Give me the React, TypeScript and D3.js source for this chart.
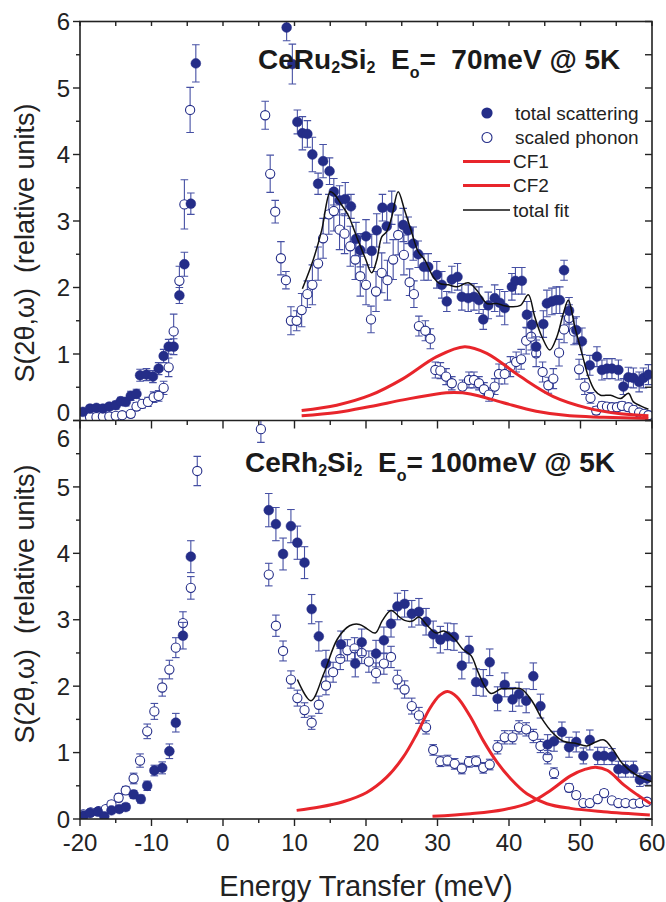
import React from "react";
import * as d3 from "d3";

// ---------- data: [energy (meV), S, error] ----------
const ruTotal: [number, number, number][] = [
  [-19.6,0.13,0.05],[-18.6,0.18,0.05],[-17.7,0.19,0.05],[-16.8,0.18,0.05],[-15.9,0.21,0.05],[-15.0,0.23,0.06],[-14.3,0.29,0.06],[-13.6,0.28,0.06],[-12.9,0.37,0.07],[-12.1,0.40,0.07],[-11.6,0.68,0.09],[-10.7,0.69,0.09],[-9.8,0.66,0.09],[-9.0,0.78,0.09],[-8.3,0.97,0.10],[-7.6,1.11,0.11],[-6.9,1.11,0.12],[-6.1,1.88,0.12],[-5.4,2.35,0.18],[-4.5,3.26,0.16],[-3.8,5.37,0.28],
  [8.9,5.91,0.2],[9.7,5.36,0.3],[10.4,4.49,0.18],[11.1,4.32,0.25],[11.8,4.31,0.2],[12.5,4.0,0.26],[13.3,3.56,0.16],[14.0,3.90,0.25],[14.9,3.75,0.2],[15.5,3.44,0.2],[16.3,3.31,0.22],[17.1,3.33,0.25],[17.9,3.22,0.18],[18.6,2.73,0.25],[19.2,2.56,0.25],[20.0,2.77,0.25],[20.8,2.55,0.25],[21.5,2.86,0.25],[22.3,3.20,0.2],[22.9,2.92,0.25],[23.6,3.20,0.25],[25.2,2.94,0.25],[25.9,2.86,0.2],[26.6,2.66,0.25],[27.3,2.50,0.2],[28.1,2.31,0.2],[28.7,2.31,0.2],[29.9,2.19,0.2],[30.6,2.04,0.2],[31.3,1.79,0.15],[32.0,2.12,0.2],[32.8,2.16,0.2],[33.4,1.86,0.2],[34.3,1.84,0.2],[35.1,1.86,0.2],[35.8,1.81,0.2],[36.4,1.52,0.15],[37.1,1.73,0.2],[38.0,1.84,0.2],[38.7,1.77,0.2],[39.4,1.69,0.25],[40.4,2.01,0.2],[40.9,2.10,0.2],[41.8,2.10,0.2],[42.5,1.59,0.2],[43.2,1.44,0.2],[43.8,1.11,0.15],[44.8,1.45,0.2],[45.3,1.76,0.2],[46.0,1.79,0.2],[46.6,1.81,0.2],[47.1,1.81,0.2],[47.7,2.26,0.15],[48.4,1.65,0.2],[49.4,1.36,0.2],[50.2,1.19,0.2],[51.3,0.83,0.15],[52.3,0.96,0.15],[53.0,0.76,0.15],[53.7,0.78,0.15],[54.4,0.78,0.15],[55.3,0.76,0.15],[56.0,0.51,0.12],[56.7,0.65,0.15],[57.4,0.64,0.15],[58.2,0.58,0.15],[58.8,0.64,0.15],[59.5,0.69,0.15],
];

const ruPhonon: [number, number, number][] = [
  [-19.6,0.04,0.04],[-18.6,0.05,0.04],[-17.7,0.05,0.04],[-16.8,0.06,0.04],[-15.9,0.06,0.04],[-15.0,0.07,0.04],[-14.1,0.08,0.04],[-12.9,0.10,0.05],[-12.1,0.21,0.06],[-11.3,0.25,0.06],[-10.5,0.28,0.07],[-9.7,0.35,0.08],[-9.0,0.37,0.08],[-8.3,0.49,0.1],[-7.6,0.80,0.14],[-6.9,1.34,0.26],[-6.1,2.10,0.22],[-5.4,3.25,0.37],[-4.6,4.67,0.34],
  [5.9,4.59,0.21],[6.6,3.71,0.28],[7.3,3.14,0.17],[8.1,2.44,0.25],[8.8,2.11,0.13],[9.5,1.50,0.21],[10.3,1.50,0.15],[11.0,1.66,0.25],[11.8,1.90,0.2],[12.5,2.04,0.3],[13.3,2.36,0.25],[14.0,2.74,0.3],[14.8,3.10,0.3],[15.5,3.15,0.3],[16.3,2.87,0.3],[17.0,2.81,0.3],[17.8,2.62,0.3],[18.5,2.42,0.3],[19.2,2.17,0.3],[20.0,2.04,0.3],[20.7,1.52,0.2],[21.4,1.94,0.3],[22.2,2.22,0.3],[23.0,2.11,0.3],[23.8,2.42,0.3],[24.5,2.79,0.3],[25.3,2.49,0.3],[26.1,2.08,0.2],[26.7,1.90,0.2],[27.4,1.42,0.15],[28.3,1.35,0.15],[29.0,1.23,0.15],[29.7,0.76,0.12],[30.4,0.75,0.12],[31.2,0.66,0.12],[32.0,0.56,0.1],[33.5,0.51,0.1],[34.4,0.61,0.12],[35.1,0.61,0.12],[35.8,0.56,0.1],[36.5,0.47,0.1],[37.2,0.39,0.1],[38.0,0.51,0.12],[38.6,0.70,0.15],[39.4,0.70,0.15],[40.2,0.81,0.15],[41.0,0.88,0.15],[41.7,0.92,0.15],[42.4,1.20,0.2],[43.1,1.26,0.2],[43.8,1.01,0.2],[44.7,0.73,0.15],[45.5,0.53,0.12],[46.2,0.63,0.15],[47.0,1.02,0.2],[47.7,1.37,0.2],[48.4,1.54,0.2],[49.1,1.34,0.2],[49.8,0.77,0.15],[50.6,0.51,0.12],[51.4,0.34,0.08],[52.2,0.15,0.06],[53.0,0.22,0.06],[53.7,0.21,0.06],[54.4,0.20,0.06],[55.1,0.20,0.06],[55.8,0.22,0.06],[56.7,0.20,0.06],[57.4,0.16,0.06],[58.2,0.12,0.05],[58.9,0.10,0.05],[59.5,0.08,0.05],
];

const ruFit: [number, number][] = [
  [11.1,1.98],[12.6,2.41],[13.8,2.86],[15.0,3.44],[15.5,3.41],[16.6,3.24],[17.5,3.09],[18.7,2.76],[19.9,2.44],[20.8,2.22],[21.5,2.41],[22.2,2.76],[22.9,2.84],[23.6,3.06],[24.5,3.44],[25.4,3.16],[26.3,2.86],[27.3,2.54],[28.2,2.42],[29.4,2.16],[30.3,2.06],[31.5,2.04],[32.7,2.01],[34.3,2.07],[35.5,1.96],[36.9,1.76],[38.3,1.76],[39.2,1.73],[40.4,1.71],[41.6,1.73],[42.7,1.89],[43.6,1.56],[44.6,1.26],[45.7,1.06],[46.7,1.26],[47.6,1.61],[48.3,1.81],[49.2,1.41],[50.2,1.01],[51.1,0.66],[52.0,0.45],[52.8,0.38],[54.2,0.38],[55.6,0.33],[56.7,0.41],[57.4,0.28],[58.4,0.22],[59.5,0.17],
];
const ruCF1: [number, number][] = [
  [11.0,0.15],[15.9,0.23],[20.6,0.38],[25.2,0.63],[29.9,0.96],[33.8,1.11],[36.9,1.01],[41.6,0.66],[46.2,0.36],[50.9,0.19],[55.6,0.10],[59.5,0.07],
];
const ruCF2: [number, number][] = [
  [11.0,0.07],[15.9,0.12],[20.6,0.21],[25.2,0.31],[29.9,0.40],[32.3,0.42],[34.6,0.40],[39.1,0.27],[43.8,0.14],[48.5,0.07],[53.2,0.05],[59.5,0.03],
];

const rhTotal: [number, number, number][] = [
  [-19.5,0.05,0.04],[-18.6,0.09,0.04],[-17.5,0.11,0.04],[-16.6,0.04,0.04],[-15.6,0.13,0.04],[-14.5,0.15,0.04],[-13.6,0.18,0.05],[-12.5,0.37,0.06],[-11.5,0.30,0.06],[-10.6,0.50,0.07],[-9.6,0.73,0.08],[-8.5,0.77,0.09],[-7.5,1.02,0.11],[-6.6,1.45,0.14],[-5.6,2.76,0.2],[-4.5,3.95,0.24],
  [6.4,4.65,0.25],[7.4,4.44,0.25],[8.4,3.99,0.24],[9.5,4.41,0.25],[10.4,4.16,0.25],[11.4,3.86,0.24],[12.4,3.16,0.22],[13.4,2.75,0.22],[14.4,2.34,0.2],[16.5,2.63,0.2],[18.5,2.34,0.2],[19.4,2.66,0.2],[21.4,2.49,0.2],[22.5,2.69,0.2],[23.5,2.94,0.2],[24.4,3.20,0.2],[25.4,3.24,0.2],[26.4,3.09,0.2],[27.4,3.12,0.2],[28.4,2.97,0.2],[29.4,2.78,0.2],[30.4,2.70,0.2],[31.4,2.75,0.2],[32.3,2.74,0.2],[33.4,2.31,0.2],[34.4,2.55,0.2],[35.4,2.06,0.2],[36.4,2.05,0.2],[37.3,2.36,0.2],[38.4,1.81,0.18],[39.4,2.02,0.18],[40.5,1.80,0.18],[41.4,1.88,0.18],[42.4,1.78,0.18],[43.4,2.15,0.2],[44.4,1.70,0.18],[45.4,1.12,0.15],[46.3,1.17,0.15],[47.4,1.31,0.15],[48.4,1.08,0.15],[49.4,1.16,0.15],[50.4,0.95,0.12],[51.3,1.19,0.15],[52.4,0.95,0.13],[53.3,0.95,0.13],[54.4,0.94,0.12],[55.3,0.75,0.12],[56.3,0.75,0.12],[57.4,0.75,0.12],[58.3,0.59,0.1],[59.3,0.61,0.1],
];

const rhPhonon: [number, number, number][] = [
  [-19.5,0.07,0.04],[-18.5,0.10,0.04],[-17.4,0.12,0.04],[-16.4,0.15,0.04],[-15.6,0.22,0.05],[-14.6,0.32,0.06],[-13.6,0.43,0.06],[-12.5,0.61,0.08],[-11.6,0.88,0.1],[-10.6,1.32,0.11],[-9.6,1.62,0.12],[-8.5,1.98,0.13],[-7.5,2.25,0.14],[-6.6,2.58,0.15],[-5.6,2.95,0.17],[-4.5,3.48,0.17],[-3.6,5.24,0.22],
  [5.3,5.87,0.2],[6.4,3.68,0.17],[7.4,2.91,0.16],[8.4,2.53,0.15],[9.5,2.10,0.13],[10.4,1.82,0.12],[11.4,1.64,0.11],[12.4,1.45,0.1],[13.4,1.72,0.13],[14.4,2.01,0.14],[15.4,2.21,0.15],[16.4,2.41,0.16],[17.4,2.54,0.16],[18.4,2.57,0.16],[19.4,2.50,0.16],[20.4,2.37,0.16],[21.4,2.20,0.15],[22.5,2.34,0.16],[23.5,2.44,0.16],[24.4,2.10,0.14],[25.4,1.95,0.13],[26.4,1.70,0.12],[27.4,1.56,0.12],[28.4,1.38,0.1],[29.4,1.04,0.08],[30.4,0.87,0.08],[31.4,0.88,0.08],[32.4,0.83,0.08],[33.4,0.76,0.08],[34.4,0.86,0.08],[35.4,0.87,0.08],[36.4,0.77,0.08],[37.3,0.82,0.08],[38.4,1.08,0.1],[39.4,1.23,0.1],[40.5,1.23,0.1],[41.4,1.38,0.1],[42.4,1.35,0.1],[43.4,1.25,0.1],[44.4,1.10,0.1],[45.4,0.93,0.1],[46.3,0.69,0.08],[48.4,0.47,0.06],[49.4,0.36,0.05],[50.4,0.24,0.04],[51.3,0.24,0.04],[52.4,0.30,0.04],[53.3,0.39,0.05],[54.4,0.28,0.04],[55.3,0.24,0.04],[56.3,0.24,0.04],[57.4,0.23,0.04],[58.3,0.24,0.04],[59.3,0.26,0.04],
];

const rhFit: [number, number][] = [
  [10.4,2.10],[12.3,1.78],[14.1,2.19],[16.0,2.71],[17.7,2.91],[19.1,2.93],[20.2,2.86],[21.3,2.80],[22.3,2.99],[23.5,3.14],[24.7,3.04],[25.4,2.99],[26.5,2.98],[27.4,3.04],[28.6,2.91],[29.8,2.80],[30.9,2.83],[32.4,2.71],[33.5,2.56],[34.7,2.46],[35.6,2.23],[36.6,2.00],[37.5,1.89],[38.9,1.96],[40.4,1.96],[41.7,1.96],[43.2,1.78],[44.6,1.51],[46.0,1.31],[47.6,1.17],[49.3,1.14],[50.9,1.10],[52.1,1.16],[53.3,1.19],[54.5,1.05],[55.9,0.83],[57.7,0.67],[60.0,0.56],
];
const rhCF1: [number, number][] = [
  [10.3,0.13],[13.5,0.18],[16.8,0.26],[20.1,0.40],[22.9,0.63],[25.2,0.93],[27.1,1.28],[28.9,1.66],[30.3,1.86],[31.4,1.92],[32.7,1.84],[34.6,1.54],[36.4,1.18],[38.3,0.86],[40.2,0.61],[42.5,0.38],[45.3,0.23],[48.6,0.16],[53.2,0.11],[59.7,0.06],
];
const rhCF2: [number, number][] = [
  [29.3,0.04],[34.6,0.08],[39.2,0.14],[43.0,0.25],[45.8,0.43],[48.6,0.65],[50.7,0.75],[52.1,0.78],[53.8,0.73],[56.1,0.51],[58.0,0.36],[59.8,0.23],
];

const xTicks = [-20, -10, 0, 10, 20, 30, 40, 50, 60];
const yTicks = [0, 1, 2, 3, 4, 5, 6];
const legendLabels = ["total scattering", "scaled phonon", "CF1", "CF2", "total fit"];

// ---------- styling ----------
const FONT = "'Liberation Sans', Arial, Helvetica, sans-serif";
const NAVY = "#242d88";
const ERR = "#4650a4";
const RED = "#e8252b";
const AX = "#222";

const W = 666, H = 902;
const x = d3.scaleLinear().domain([-20, 60]).range([80, 652]);
const yTop = d3.scaleLinear().domain([0, 6]).range([420.5, 21.5]);
const yBot = d3.scaleLinear().domain([0, 6]).range([819, 420.5]);

function Points({ data, y, filled }: { data: [number, number, number][]; y: d3.ScaleLinear<number, number>; filled: boolean }) {
  return (
    <g>
      {data.map((d, i) => {
        const cx = x(d[0]);
        const y1 = y(d[1] - d[2]);
        const y2 = y(d[1] + d[2]);
        return (
          <g key={i} stroke={ERR} strokeWidth={1.1}>
            <line x1={cx} x2={cx} y1={y1} y2={y2} />
            <line x1={cx - 3.8} x2={cx + 3.8} y1={y1} y2={y1} />
            <line x1={cx - 3.8} x2={cx + 3.8} y1={y2} y2={y2} />
          </g>
        );
      })}
      {data.map((d, i) => (
        <circle
          key={"c" + i}
          cx={x(d[0])}
          cy={y(d[1])}
          r={filled ? 4.9 : 4.6}
          fill={filled ? NAVY : "#fff"}
          stroke={NAVY}
          strokeWidth={filled ? 0.5 : 1.1}
        />
      ))}
    </g>
  );
}

function Curve({ data, y, color, width }: { data: [number, number][]; y: d3.ScaleLinear<number, number>; color: string; width: number }) {
  const gen = d3
    .line<[number, number]>()
    .x((d) => x(d[0]))
    .y((d) => y(d[1]))
    .curve(d3.curveCatmullRom.alpha(0.5));
  return <path d={gen(data) || ""} fill="none" stroke={color} strokeWidth={width} strokeLinejoin="round" />;
}

function Frame({ y, top, bottom, bottomAxis }: { y: d3.ScaleLinear<number, number>; top: number; bottom: number; bottomAxis: boolean }) {
  const halfs = d3.range(0, 6.01, 0.5);
  const xMinor = d3.range(-20, 60.01, 5);
  return (
    <g stroke={AX} strokeWidth={1.4} fill="none">
      {halfs.map((v, i) => (
        <line key={"l" + i} x1={x(-20)} x2={x(-20) - (Number.isInteger(v) ? 7 : 4)} y1={y(v)} y2={y(v)} />
      ))}
      {halfs.map((v, i) => (
        <line key={"r" + i} x1={x(60)} x2={x(60) - 7} y1={y(v)} y2={y(v)} />
      ))}
      {xMinor.map((e, i) => (
        <line key={"t" + i} x1={x(e)} x2={x(e)} y1={top} y2={top + (bottomAxis && e % 10 === 0 ? 8 : 4.5)} />
      ))}
      {bottomAxis &&
        xMinor.map((e, i) => (
          <line key={"b" + i} x1={x(e)} x2={x(e)} y1={bottom} y2={bottom + (e % 10 === 0 ? 7 : 4)} />
        ))}
    </g>
  );
}

export default function App() {
  const ySubLabel = (cy: number, cx: number) => (
    <text
      transform={`translate(${cx},${cy}) rotate(-90)`}
      textAnchor="middle"
      fontFamily={FONT}
      fontSize={27}
      fill={AX}
      style={{ whiteSpace: "pre" }}
    >
      {"S(2θ,ω)  (relative units)"}
    </text>
  );

  return (
    <svg width={W} height={H} style={{ position: "absolute", left: 0, top: 0, background: "#fff" }}>
      <defs>
        <clipPath id="clipTop">
          <rect x={x(-20)} y={yTop(6)} width={x(60) - x(-20)} height={yTop(0) - yTop(6)} />
        </clipPath>
        <clipPath id="clipBot">
          <rect x={x(-20)} y={yBot(6)} width={x(60) - x(-20)} height={yBot(0) - yBot(6)} />
        </clipPath>
      </defs>

      <g clipPath="url(#clipTop)">
        <Points data={ruPhonon} y={yTop} filled={false} />
        <Points data={ruTotal} y={yTop} filled={true} />
        <Curve data={ruCF1} y={yTop} color={RED} width={3} />
        <Curve data={ruCF2} y={yTop} color={RED} width={3} />
        <Curve data={ruFit} y={yTop} color="#111" width={1.5} />
      </g>
      <g clipPath="url(#clipBot)">
        <Points data={rhPhonon} y={yBot} filled={false} />
        <Points data={rhTotal} y={yBot} filled={true} />
        <Curve data={rhCF1} y={yBot} color={RED} width={3} />
        <Curve data={rhCF2} y={yBot} color={RED} width={3} />
        <Curve data={rhFit} y={yBot} color="#111" width={1.5} />
      </g>

      <rect x={x(-20)} y={yTop(6)} width={x(60) - x(-20)} height={yBot(0) - yTop(6)} fill="none" stroke={AX} strokeWidth={1.6} />
      <line x1={x(-20)} x2={x(60)} y1={yTop(0)} y2={yTop(0)} stroke={AX} strokeWidth={1.6} />
      <Frame y={yTop} top={yTop(6)} bottom={yTop(0)} bottomAxis={false} />
      <Frame y={yBot} top={yBot(6)} bottom={yBot(0)} bottomAxis={true} />

      <g fontFamily={FONT} fontSize={24} fill={AX} textAnchor="end">
        {yTicks.map((v) => (
          <text key={"yt" + v} x={70} y={yTop(v) + (v === 0 ? -8 : 0)} dy="0.36em">
            {v}
          </text>
        ))}
        {yTicks.map((v) => (
          <text key={"yb" + v} x={70} y={yBot(v) + (v === 6 ? 18 : 0)} dy="0.36em">
            {v}
          </text>
        ))}
      </g>
      <g fontFamily={FONT} fontSize={24} fill={AX} textAnchor="middle">
        {xTicks.map((e) => (
          <text key={"xt" + e} x={x(e)} y={851}>
            {e}
          </text>
        ))}
      </g>
      <text x={(x(-20) + x(60)) / 2} y={896} textAnchor="middle" fontFamily={FONT} fontSize={29} fill={AX}>
        Energy Transfer (meV)
      </text>
      {ySubLabel(243, 34)}
      {ySubLabel(604, 34)}

      <text x={258} y={69} fontFamily={FONT} fontSize={28} fontWeight="bold" fill="#1a1a1a" style={{ whiteSpace: "pre" }}>
        CeRu<tspan fontSize={16} dy={4}>2</tspan>
        <tspan dy={-4}>Si</tspan>
        <tspan fontSize={16} dy={4}>2</tspan>
        <tspan dy={-4}>{"  E"}</tspan>
        <tspan fontSize={16} dy={9}>o</tspan>
        <tspan dy={-9}>{"=  70meV @ 5K"}</tspan>
      </text>
      <text x={245} y={472} fontFamily={FONT} fontSize={28} fontWeight="bold" fill="#1a1a1a" style={{ whiteSpace: "pre" }}>
        CeRh<tspan fontSize={16} dy={4}>2</tspan>
        <tspan dy={-4}>Si</tspan>
        <tspan fontSize={16} dy={4}>2</tspan>
        <tspan dy={-4}>{"  E"}</tspan>
        <tspan fontSize={16} dy={9}>o</tspan>
        <tspan dy={-9}>{"= 100meV @ 5K"}</tspan>
      </text>

      <g fontFamily={FONT} fontSize={19} fill={AX}>
        <circle cx={487} cy={113} r={5.6} fill={NAVY} />
        <text x={515} y={113} dy="0.35em">{legendLabels[0]}</text>
        <circle cx={487} cy={137.5} r={5} fill="#fff" stroke={NAVY} strokeWidth={1.1} />
        <text x={515} y={137.5} dy="0.35em">{legendLabels[1]}</text>
        <line x1={463} x2={510} y1={161.5} y2={161.5} stroke={RED} strokeWidth={3} />
        <text x={513} y={161.5} dy="0.35em">{legendLabels[2]}</text>
        <line x1={463} x2={510} y1={185.5} y2={185.5} stroke={RED} strokeWidth={3} />
        <text x={513} y={185.5} dy="0.35em">{legendLabels[3]}</text>
        <line x1={463} x2={510} y1={210} y2={210} stroke="#111" strokeWidth={1.5} />
        <text x={513} y={210} dy="0.35em">{legendLabels[4]}</text>
      </g>
    </svg>
  );
}
